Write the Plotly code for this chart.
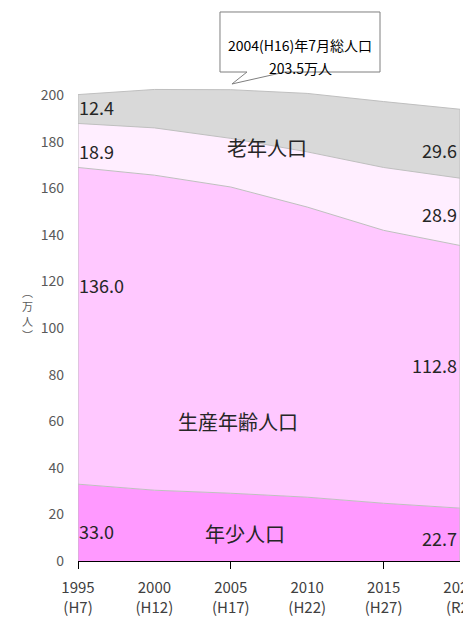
import plotly.graph_objects as go

# ---- data (万人) ----
years = [1995, 2000, 2005, 2010, 2015, 2020]
year_labels = ["1995<br>(H7)", "2000<br>(H12)", "2005<br>(H17)", "2010<br>(H22)", "2015<br>(H27)", "2020<br>(R2)"]
youth = [33.0, 30.4, 29.1, 27.4, 24.8, 22.7]          # 年少人口
working = [136.0, 135.3, 131.5, 124.6, 117.2, 112.8]  # 生産年齢人口
elder1 = [18.9, 20.3, 20.9, 23.7, 27.0, 28.9]         # 老年人口 (65-74)
elder2 = [12.4, 16.5, 20.9, 25.1, 28.3, 29.6]         # 老年人口 (75+)
y_ticks = [0, 20, 40, 60, 80, 100, 120, 140, 160, 180, 200]
callout_lines = ["2004(H16)年7月総人口", "203.5万人"]

FONT = "Noto Sans CJK JP"
W, H = 463, 619
ML, MR, MT, MB = 78, 3, 72, 58
PW, PH = W - ML - MR, H - MT - MB

def px(xp, yp):
    return (xp - ML) / PW, (H - MB - yp) / PH

fig = go.Figure()
series = [
    (youth, "#FF99FF", "年少人口"),
    (working, "#FFC8FF", "生産年齢人口"),
    (elder1, "#FFEEFF", "老年人口1"),
    (elder2, "#D9D9D9", "老年人口2"),
]
for vals, col, name in series:
    fig.add_trace(go.Scatter(
        x=years, y=vals, name=name, mode="lines", stackgroup="one",
        fillcolor=col, line=dict(color="#BFBFBF", width=1), hoverinfo="skip",
    ))

totals = [a + b + c + d for a, b, c, d in zip(youth, working, elder1, elder2)]
for i in (0, -1):
    fig.add_trace(go.Scatter(x=[years[i], years[i]], y=[0, totals[i]], mode="lines",
                             line=dict(color="#BFBFBF", width=1), hoverinfo="skip", showlegend=False))

# tick marks every 10 years on an overlaying axis
fig.add_trace(go.Scatter(x=[years[0]], y=[0], xaxis="x2", mode="markers",
                         marker=dict(opacity=0), hoverinfo="skip", showlegend=False))

fig.update_layout(
    width=W, height=H, margin=dict(l=ML, r=MR, t=MT, b=MB, autoexpand=False),
    paper_bgcolor="white", plot_bgcolor="white", showlegend=False,
    font=dict(family=FONT, color="#404040"),
    xaxis=dict(range=[years[0], years[-1]], tickvals=years, ticktext=year_labels,
               showgrid=False, zeroline=False, showline=True, linecolor="#000000", linewidth=1,
               ticks="", ticklabelstandoff=13, ticklabeloverflow="allow", automargin=False,
               tickfont=dict(size=15, color="#404040")),
    xaxis2=dict(range=[years[0], years[-1]], overlaying="x", anchor="y", side="bottom",
                tickvals=years[::2], ticks="outside", ticklen=7, tickcolor="#000000",
                showticklabels=False, showgrid=False, zeroline=False, showline=False,
                automargin=False),
    yaxis=dict(range=[0, 210], tickvals=y_ticks, showgrid=False, zeroline=False, showline=False,
               ticks="", ticklabelstandoff=13, automargin=False,
               tickfont=dict(size=14, color="#595959")),
)

ann = []
lab_font = dict(family=FONT, size=18, color="#262626")
# left-side values (1995)
left_vals = [elder2[0], elder1[0], working[0], youth[0]]
left_y = [195.0, 176.1, 118.5, 13.0]
for v, yy in zip(left_vals, left_y):
    ann.append(dict(x=years[0], y=yy, text=f"{v:.1f}", showarrow=False, xanchor="left",
                    yanchor="middle", xshift=-1, font=lab_font))
right_vals = [elder2[-1], elder1[-1], working[-1], youth[-1]]
right_y = [176.5, 149.0, 84.0, 9.8]
for v, yy in zip(right_vals, right_y):
    ann.append(dict(x=years[-1], y=yy, text=f"{v:.1f}", showarrow=False, xanchor="right",
                    yanchor="middle", xshift=-1, font=lab_font))

cat_font = dict(family=FONT, size=20, color="#262626")
for txt, xx, yy in [("老年人口", 2007.4, 177.4), ("生産年齢人口", 2005.5, 60.1), ("年少人口", 2005.9, 12.0)]:
    ann.append(dict(x=xx, y=yy, text=txt, showarrow=False, font=cat_font))

# y-axis title (vertical writing)
xx, yy = px(20, 313)
ann.append(dict(xref="paper", yref="paper", x=xx, y=yy, text="︵<br>万<br>人<br>︶", showarrow=False,
                font=dict(family=FONT, size=11, color="#595959")))

# callout
for line, yp in zip(callout_lines, [33, 56]):
    xx, yy = px(300, yp)
    ann.append(dict(xref="paper", yref="paper", x=xx, y=yy, text=line, showarrow=False,
                    font=dict(family=FONT, size=14, color="#000000")))
pts = [(220, 12), (380, 12), (380, 72), (285, 72), (232, 84), (247, 72), (220, 72)]
path = "M " + " L ".join(f"{px(a, b)[0]:.4f},{px(a, b)[1]:.4f}" for a, b in pts) + " Z"
fig.add_shape(type="path", xref="paper", yref="paper", path=path,
              line=dict(color="#7F7F7F", width=1), fillcolor="white", layer="below")

fig.update_layout(annotations=ann)
fig.write_html("out.html")
